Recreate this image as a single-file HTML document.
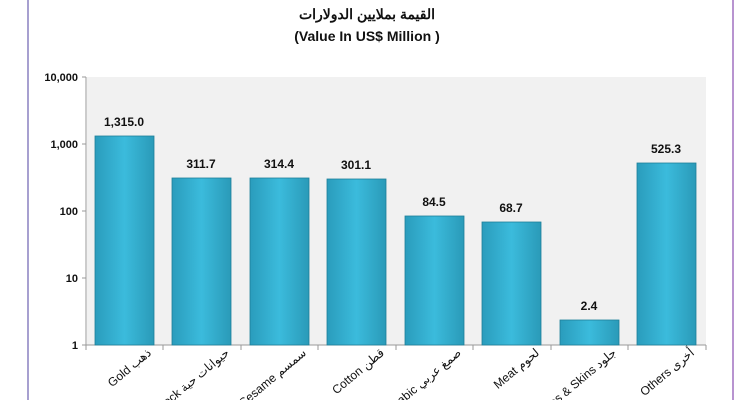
<!DOCTYPE html>
<html><head><meta charset="utf-8"><style>
html,body{margin:0;background:#fff;width:735px;height:400px;overflow:hidden}
svg{display:block;overflow:hidden}
</style></head><body>
<svg width="735" height="400" xmlns="http://www.w3.org/2000/svg" font-family="'Liberation Sans','Noto Sans CJK SC',sans-serif">
<defs>
<linearGradient id="g" x1="0" x2="1" y1="0" y2="0">
<stop offset="0" stop-color="#2a9cbc"/><stop offset="0.5" stop-color="#3bbbdc"/><stop offset="1" stop-color="#2a9ab8"/>
</linearGradient>
</defs>
<line x1="28" y1="0" x2="28" y2="400" stroke="#8a80c0" stroke-width="1.5"/>
<line x1="733" y1="0" x2="733" y2="400" stroke="#a070c0" stroke-width="1.5"/>
<text x="367" y="19" text-anchor="middle" font-size="14" font-weight="bold" fill="#111">القيمة بملايين الدولارات</text>
<text x="367" y="41" text-anchor="middle" font-size="14" font-weight="bold" fill="#111">(Value In US$ Million )</text>
<rect x="87" y="77" width="619" height="268" fill="#f1f1f1"/>
<line x1="86" y1="77" x2="86" y2="345" stroke="#999"/>
<line x1="86" y1="345" x2="706" y2="345" stroke="#999"/>
<g stroke="#999">
<line x1="82" y1="77" x2="86" y2="77"/><line x1="82" y1="144" x2="86" y2="144"/><line x1="82" y1="211" x2="86" y2="211"/><line x1="82" y1="278" x2="86" y2="278"/><line x1="82" y1="345" x2="86" y2="345"/>
<line x1="86" y1="345" x2="86" y2="350"/><line x1="163" y1="345" x2="163" y2="350"/><line x1="241" y1="345" x2="241" y2="350"/><line x1="318" y1="345" x2="318" y2="350"/><line x1="396" y1="345" x2="396" y2="350"/><line x1="473" y1="345" x2="473" y2="350"/><line x1="551" y1="345" x2="551" y2="350"/><line x1="628" y1="345" x2="628" y2="350"/><line x1="706" y1="345" x2="706" y2="350"/>
</g>
<g font-size="11" font-weight="bold" fill="#111" text-anchor="end">
<text x="78" y="81">10,000</text><text x="78" y="148">1,000</text><text x="78" y="215">100</text><text x="78" y="282">10</text><text x="78" y="349">1</text>
</g>
<g fill="url(#g)" stroke="#1f7f99" stroke-width="0.8">
<rect x="95" y="136" width="59" height="209"/>
<rect x="172" y="178" width="59" height="167"/>
<rect x="250" y="178" width="59" height="167"/>
<rect x="327" y="179" width="59" height="166"/>
<rect x="405" y="216" width="59" height="129"/>
<rect x="482" y="222" width="59" height="123"/>
<rect x="560" y="320" width="59" height="25"/>
<rect x="637" y="163" width="59" height="182"/>
</g>
<g font-size="12" font-weight="bold" fill="#111" text-anchor="middle">
<text x="124" y="126">1,315.0</text><text x="201" y="168">311.7</text><text x="279" y="168">314.4</text><text x="356" y="169">301.1</text>
<text x="434" y="206">84.5</text><text x="511" y="212">68.7</text><text x="589" y="310">2.4</text><text x="666" y="153">525.3</text>
</g>
<g font-size="12" fill="#111" text-anchor="end" direction="ltr" unicode-bidi="embed">
<text transform="translate(152,354) rotate(-40)"><tspan>Gold </tspan><tspan>ذهب</tspan></text>
<text transform="translate(230,354) rotate(-40)"><tspan>Livestock </tspan><tspan>حيوانات حية</tspan></text>
<text transform="translate(307,354) rotate(-40)"><tspan>Sesame </tspan><tspan>سمسم</tspan></text>
<text transform="translate(385,354) rotate(-40)"><tspan>Cotton  </tspan><tspan>قطن</tspan></text>
<text transform="translate(462,354) rotate(-40)"><tspan>Gum Arabic </tspan><tspan>صمغ عربي</tspan></text>
<text transform="translate(540,354) rotate(-40)"><tspan>Meat </tspan><tspan>لحوم</tspan></text>
<text transform="translate(617,354) rotate(-40)"><tspan>Hides &amp; Skins </tspan><tspan>جلود</tspan></text>
<text transform="translate(695,354) rotate(-40)"><tspan>Others </tspan><tspan>أخرى</tspan></text>
</g>
</svg>
</body></html>
